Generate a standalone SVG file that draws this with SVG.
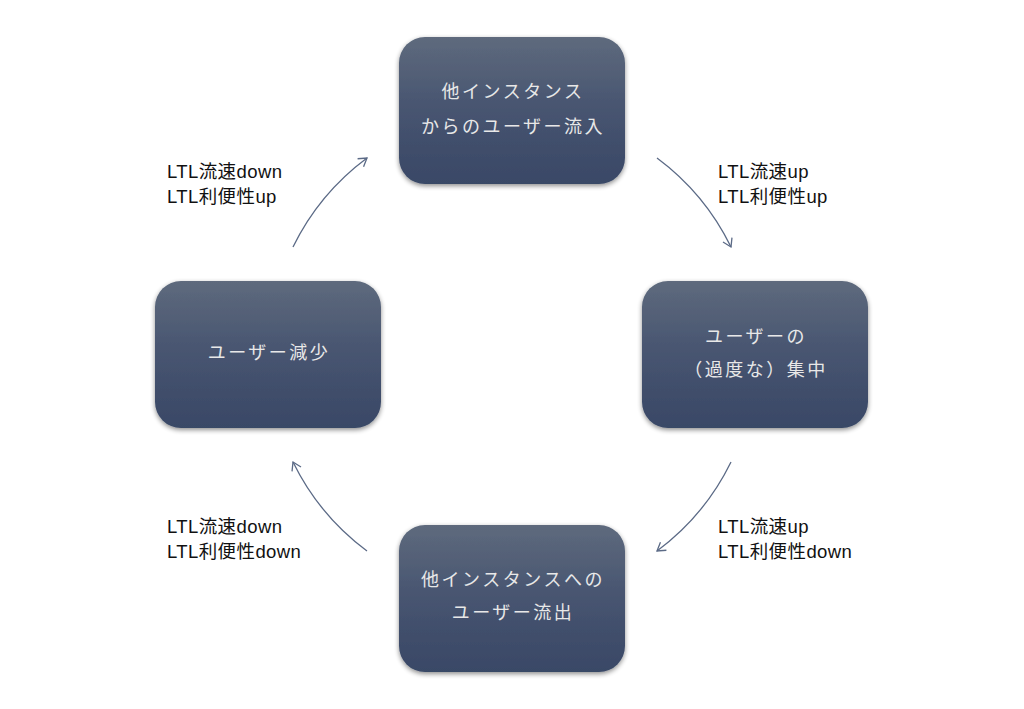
<svg xmlns="http://www.w3.org/2000/svg" width="1024" height="709" viewBox="0 0 1024 709">
<defs>
<linearGradient id="g" x1="0" y1="0" x2="0" y2="1">
<stop offset="0" stop-color="#5e6a7d"/>
<stop offset="0.5" stop-color="#475470"/>
<stop offset="1" stop-color="#394866"/>
</linearGradient>
<filter id="sh" x="-10%" y="-10%" width="120%" height="125%">
<feGaussianBlur in="SourceAlpha" stdDeviation="2.5"/>
<feOffset dx="0" dy="2" result="b"/>
<feComponentTransfer><feFuncA type="linear" slope="0.45"/></feComponentTransfer>
<feMerge><feMergeNode/><feMergeNode in="SourceGraphic"/></feMerge>
</filter>
<marker id="arr" markerWidth="14" markerHeight="14" refX="10" refY="7" orient="auto" markerUnits="userSpaceOnUse">
<path d="M2,2 L10,7 L2,12" fill="none" stroke="#5b6a86" stroke-width="1.3"/>
</marker>
</defs>
<style>
.box{fill:url(#g);filter:url(#sh)}
.bt{fill:#e8e8e8;font-family:"Liberation Sans","Noto Sans CJK JP",sans-serif;font-size:18px;text-anchor:middle;letter-spacing:2.5px}
.lb{fill:#111111;font-family:"Liberation Sans","Noto Sans CJK JP",sans-serif;font-size:18.5px;letter-spacing:0.4px}
.c{fill:none;stroke:#5b6a86;stroke-width:1.3;marker-end:url(#arr)}
</style>
<rect width="1024" height="709" fill="#ffffff"/>
<g id="node-top">
<rect class="box" x="399" y="37" width="226" height="147" rx="26"/>
<text class="bt" x="513" y="98">他インスタンス</text>
<text class="bt" x="513" y="133">からのユーザー流入</text>
</g>
<g id="node-right">
<rect class="box" x="642" y="281" width="226" height="147" rx="26"/>
<text class="bt" x="756" y="343">ユーザーの</text>
<text class="bt" x="756" y="376">（過度な）集中</text>
</g>
<g id="node-bottom">
<rect class="box" x="399" y="525" width="226" height="147" rx="26"/>
<text class="bt" x="513" y="586">他インスタンスへの</text>
<text class="bt" x="513" y="619">ユーザー流出</text>
</g>
<g id="node-left">
<rect class="box" x="155" y="281" width="226" height="147" rx="26"/>
<text class="bt" x="269" y="359">ユーザー減少</text>
</g>
<g id="connectors">
<path class="c" d="M657,158 A245,245 0 0 1 731,247"/>
<path class="c" d="M731,462 A245,245 0 0 1 657,551"/>
<path class="c" d="M367,551 A245,245 0 0 1 293,462"/>
<path class="c" d="M293,247 A245,245 0 0 1 367,158"/>
</g>
<g id="labels">
<text class="lb" x="167" y="178">LTL流速down</text>
<text class="lb" x="167" y="203">LTL利便性up</text>
<text class="lb" x="718" y="178">LTL流速up</text>
<text class="lb" x="718" y="203">LTL利便性up</text>
<text class="lb" x="167" y="533">LTL流速down</text>
<text class="lb" x="167" y="558">LTL利便性down</text>
<text class="lb" x="718" y="533">LTL流速up</text>
<text class="lb" x="718" y="558">LTL利便性down</text>
</g>
</svg>
